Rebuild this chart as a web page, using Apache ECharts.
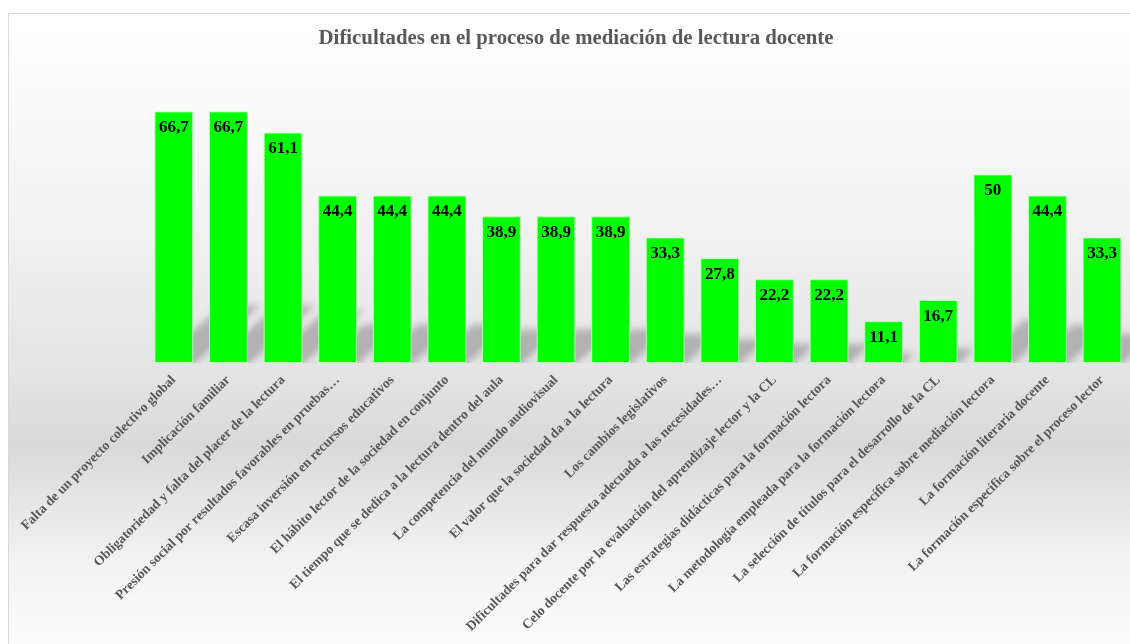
<!DOCTYPE html>
<html>
<head>
<meta charset="utf-8">
<script src="https://cdn.jsdelivr.net/npm/echarts@6/dist/echarts.min.js"></script>
<style>
  html, body { margin: 0; padding: 0; background: #ffffff; }
  #chart { width: 1130px; height: 644px; }
</style>
</head>
<body>
<div id="chart"></div>
<script>
// Difficulties reported by teachers (percent of respondents)
const categories = [
  'Falta de un proyecto colectivo global',
  'Implicación familiar',
  'Obligatoriedad y falta del placer de la lectura',
  'Presión social por resultados favorables en pruebas…',
  'Escasa inversión en recursos educativos',
  'El hábito lector de la sociedad en conjunto',
  'El tiempo que se dedica a la lectura dentro del aula',
  'La competencia del mundo audiovisual',
  'El valor que la sociedad da a la lectura',
  'Los cambios legislativos',
  'Dificultades para dar respuesta adecuada a las necesidades…',
  'Celo docente por la evaluación del aprendizaje lector y la CL',
  'Las estrategias didácticas para la formación lectora',
  'La metodología empleada para la formación lectora',
  'La selección de títulos para el desarrollo de la CL',
  'La formación específica sobre mediación lectora',
  'La formación literaria docente',
  'La formación específica sobre el proceso lector'
];

const percentages = [66.7, 66.7, 61.1, 44.4, 44.4, 44.4, 38.9, 38.9, 38.9, 33.3, 27.8, 22.2, 22.2, 11.1, 16.7, 50, 44.4, 33.3];

const titleText = 'Dificultades en el proceso de mediación de lectura docente';

const SERIF = "'Liberation Serif', 'Times New Roman', serif";
const BAR_RATIO = 0.71;

const chart = echarts.init(document.getElementById('chart'), null, { renderer: 'canvas' });

// Soft perspective shadow cast by each bar onto the floor (up and to the right)
function renderShadow(params, api) {
  const idx = api.value(0);
  const v = api.value(1);
  const base = api.coord([idx, 0]);
  const top = api.coord([idx, v]);
  const bw = api.size([1, 0])[0] * BAR_RATIO;
  const h = base[1] - top[1];
  const dy = h * 0.23;
  const dx = dy * 1.17;
  const xl = base[0] - bw / 2;
  const xr = base[0] + bw / 2;
  const y0 = base[1];
  const OFF = 3000; // draw the shape off-canvas so only its blurred shadow shows
  return {
    type: 'polygon',
    shape: {
      points: [
        [xl - OFF, y0 + 2],
        [xr - OFF, y0 + 2],
        [xr + dx - OFF, y0 - dy],
        [xl + dx - OFF, y0 - dy]
      ]
    },
    style: {
      fill: '#000',
      shadowBlur: 7,
      shadowColor: 'rgba(0,0,0,0.23)',
      shadowOffsetX: OFF,
      shadowOffsetY: 0
    },
    silent: true
  };
}

const option = {
  animation: false,
  backgroundColor: '#ffffff',
  graphic: [
    {
      type: 'rect',
      z: -10,
      silent: true,
      shape: { x: 8.5, y: 13.5, width: 1200, height: 640 },
      style: {
        stroke: '#d9d9d9',
        lineWidth: 1,
        fill: new echarts.graphic.LinearGradient(0, 0, 0, 1, [
          { offset: 0.0, color: '#ffffff' },
          { offset: 0.14, color: '#fafafa' },
          { offset: 0.37, color: '#f0f0f0' },
          { offset: 0.547, color: '#e5e5e5' },
          { offset: 0.675, color: '#d9d9d9' },
          { offset: 0.85, color: '#f2f2f2' },
          { offset: 1.0, color: '#fdfdfd' }
        ])
      }
    }
  ],
  title: {
    text: titleText,
    left: 571,
    top: 23,
    textAlign: 'center',
    textStyle: {
      fontFamily: SERIF,
      fontSize: 20.8,
      fontWeight: 'bold',
      color: '#595959'
    }
  },
  grid: {
    left: 146.5,
    right: 0.7,
    top: 99,
    bottom: 281,
    containLabel: false
  },
  xAxis: {
    type: 'category',
    data: categories,
    axisLine: { show: false },
    axisTick: { show: false },
    axisLabel: {
      interval: 0,
      rotate: 45,
      margin: 15,
      fontFamily: SERIF,
      fontSize: 13.6,
      fontWeight: 'bold',
      color: '#595959'
    }
  },
  yAxis: {
    type: 'value',
    min: 0,
    max: 70,
    show: false,
    splitLine: { show: false }
  },
  series: [
    {
      type: 'custom',
      name: 'sombra',
      z: 1,
      clip: true,
      renderItem: renderShadow,
      data: percentages.map((v, i) => [i, v]),
      encode: { x: 0, y: 1 }
    },
    {
      type: 'bar',
      name: 'Porcentaje',
      z: 3,
      data: percentages,
      barWidth: (BAR_RATIO * 100) + '%',
      itemStyle: {
        color: '#00ff00',
        borderColor: 'rgba(190,255,190,0.9)',
        borderWidth: 1
      },
      label: {
        show: true,
        position: 'insideTop',
        distance: 8,
        fontFamily: SERIF,
        fontSize: 17,
        fontWeight: 'bold',
        color: '#000000',
        formatter: (p) => String(p.value).replace('.', ',')
      }
    }
  ]
};

chart.setOption(option);
</script>
</body>
</html>
